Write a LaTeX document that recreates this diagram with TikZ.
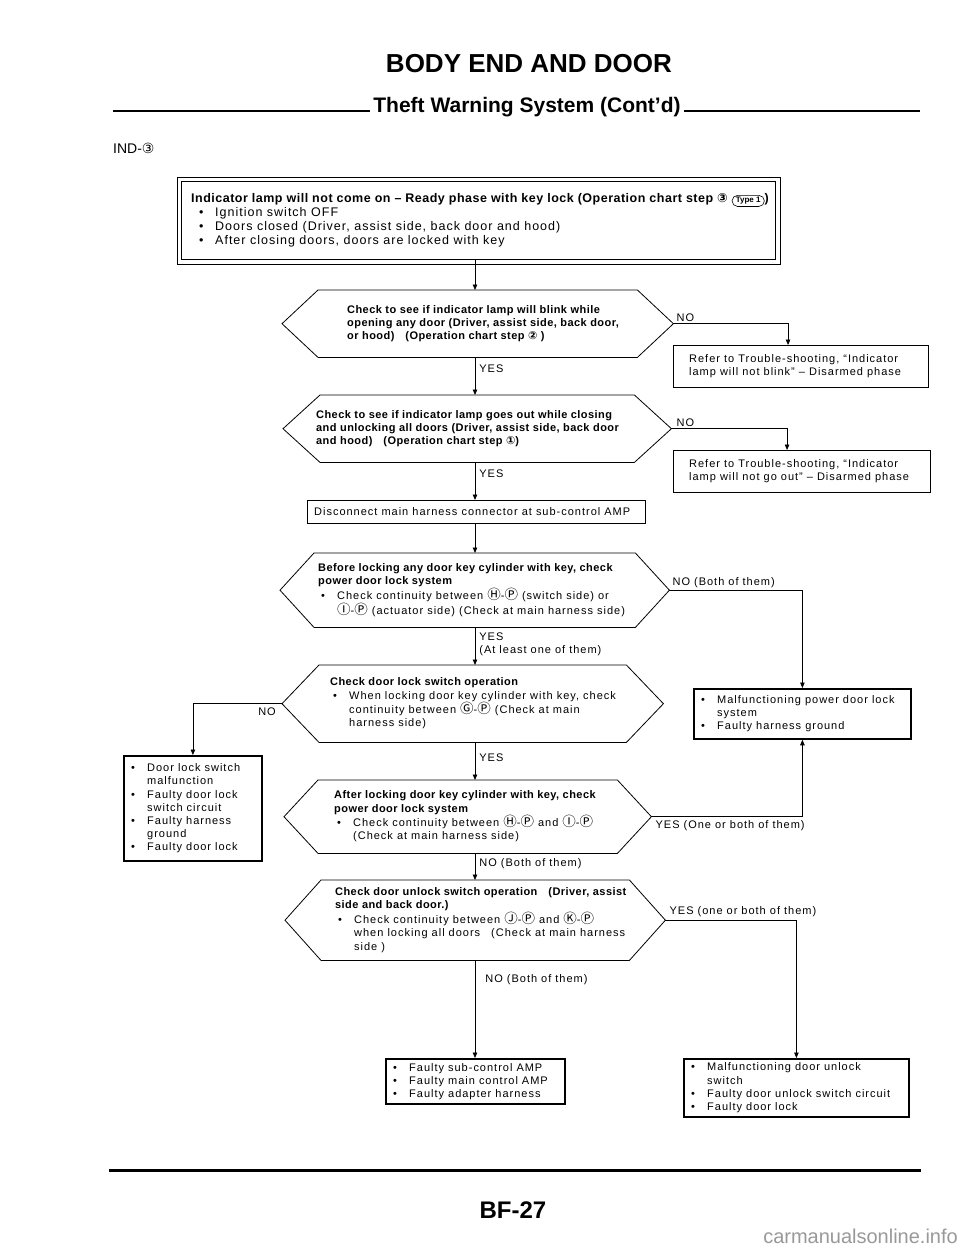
\documentclass[tikz,border=0pt]{standalone}
\usepackage{fontspec}
\setmainfont{Liberation Sans}[LetterSpace=9,BoldFeatures={LetterSpace=4}]
\newfontfamily\symf{DejaVu Sans}
\newfontfamily\circf{Noto Sans CJK SC}
\newfontfamily\plainf{Liberation Sans}
\usetikzlibrary{arrows.meta,shapes.misc,calc}
\newcommand{\ft}{\fontsize{11}{13.2}\selectfont}
\newcommand{\ftop}{\fontsize{12.5}{14}\selectfont\addfontfeature{LetterSpace=8}}
\newcommand{\cir}[1]{{\symf #1}}
\newcommand{\cl}[1]{{\circf\fontsize{13.5}{13}\selectfont #1}}
\newcommand{\bul}{\makebox[16pt][l]{\textbullet}}
\newcommand{\ind}{\hspace*{16pt}}
\newcommand{\typeone}{\tikz[baseline=(ty.base)]\node[draw,rounded rectangle,line width=0.6pt,inner xsep=2.5pt,inner ysep=2pt,font=\plainf\fontsize{8}{8}\selectfont,anchor=center](ty){Type 1};}
\newcommand{\hexnode}[6]{%
  \node[inner sep=0pt,minimum width=#4pt,minimum height=#5pt,anchor=north west] (#1) at (#2,#3) {};
  \draw[hexline] (#1.west) -- ([xshift=#6pt]#1.north west) -- ([xshift=-#6pt]#1.north east) -- (#1.east) -- ([xshift=-#6pt]#1.south east) -- ([xshift=#6pt]#1.south west) -- cycle;}
\begin{document}
\begin{tikzpicture}[x=1pt,y=-1pt,
  conn/.style={line width=0.8pt},
  arr/.style={conn,-{Triangle[length=5.5pt,width=4.5pt]}},
  hexline/.style={line width=0.8pt},
  box/.style={draw,line width=1.1pt,inner sep=0pt},
  rbox/.style={draw,line width=1.8pt,inner sep=0pt},
  txt/.style={font=\ft,align=left,inner sep=0pt},
  lbl/.style={font=\ft,inner sep=0pt,align=left}]
\fill[white] (0,0) rectangle (960,1247);
\useasboundingbox (0,0) rectangle (960,1247);
\coordinate (fl) at (475,0);
\coordinate (lft) at (113,0);
\coordinate (rgt) at (920,0);
% header
\node[font=\plainf\bfseries\fontsize{26}{26}\selectfont,anchor=base,inner sep=0] (title) at (529,72) {BODY END AND DOOR};
\node[font=\plainf\bfseries\fontsize{21}{21}\selectfont,anchor=base,inner sep=0] (sub) at (527,112) {Theft Warning System (Cont’d)};
\draw[line width=1.6pt] ([xshift=-3pt,yshift=1pt]sub.base west) -- ([yshift=1pt]sub.base west -| lft);
\draw[line width=1.6pt] ([xshift=3pt,yshift=1pt]sub.base east) -- ([yshift=1pt]sub.base east -| rgt);
\node[font=\plainf\fontsize{14}{14}\selectfont,anchor=base west,inner sep=0] (ind) at (113,153) {IND-\cir{③}};
% top box
\node[draw,line width=1.2pt,minimum width=594pt,minimum height=78pt,anchor=north west,inner sep=0] (top) at (181,181) {};
\draw[line width=0.7pt] ([shift={(-4pt,4pt)}]top.north west) rectangle ([shift={(4pt,-4pt)}]top.south east);
\node[txt,font=\ftop,anchor=west] (topt) at ([xshift=10pt]top.west) {{\bfseries\addfontfeature{LetterSpace=7}Indicator lamp will not come on -- Ready phase with key lock (Operation chart step \cir{③} \typeone)}\\
\hspace*{8pt}\bul Ignition switch OFF\\
\hspace*{8pt}\bul Doors closed (Driver, assist side, back door and hood)\\
\hspace*{8pt}\bul After closing doors, doors are locked with key};
% hexagons
\hexnode{h1}{282}{290}{391}{67}{36}
\hexnode{h2}{283}{395}{388}{67}{37}
\hexnode{h3}{280}{553}{389}{74}{34}
\hexnode{h4}{282}{665}{381}{77}{37}
\hexnode{h5}{284}{780}{367}{73}{34}
\hexnode{h6}{285}{880}{380}{80}{36}
\node[txt,anchor=west] (h1t) at (347,323.5) {\textbf{Check to see if indicator lamp will blink while}\\
\textbf{opening any door (Driver, assist side, back door,}\\
\textbf{or hood)\quad(Operation chart step \cir{②} )}};
\node[txt,anchor=west] (h2t) at (316,428.5) {\textbf{Check to see if indicator lamp goes out while closing}\\
\textbf{and unlocking all doors (Driver, assist side, back door}\\
\textbf{and hood)\quad(Operation chart step \cir{①})}};
\node[txt,anchor=west] (h3t) at (318,590) {\textbf{Before locking any door key cylinder with key, check}\\
\textbf{power door lock system}\\
\hspace*{3pt}\bul Check continuity between \cl{Ⓗ}-\cl{Ⓟ} (switch side) or\\
\hspace*{3pt}\ind\cl{Ⓘ}-\cl{Ⓟ} (actuator side) (Check at main harness side)};
\node[txt,anchor=west] (h4t) at (330,703.5) {\textbf{Check door lock switch operation}\\
\hspace*{3pt}\bul When locking door key cylinder with key, check\\
\hspace*{3pt}\ind continuity between \cl{Ⓖ}-\cl{Ⓟ} (Check at main\\
\hspace*{3pt}\ind harness side)};
\node[txt,anchor=west] (h5t) at (334,816.5) {\textbf{After locking door key cylinder with key, check}\\
\textbf{power door lock system}\\
\hspace*{3pt}\bul Check continuity between \cl{Ⓗ}-\cl{Ⓟ} and \cl{Ⓘ}-\cl{Ⓟ}\\
\hspace*{3pt}\ind(Check at main harness side)};
\node[txt,anchor=west] (h6t) at (335,920) {\textbf{Check door unlock switch operation\quad(Driver, assist}\\
\textbf{side and back door.)}\\
\hspace*{3pt}\bul Check continuity between \cl{Ⓙ}-\cl{Ⓟ} and \cl{Ⓚ}-\cl{Ⓟ}\\
\hspace*{3pt}\ind when locking all doors\quad(Check at main harness\\
\hspace*{3pt}\ind side )};
% boxes
\node[box,minimum width=255pt,minimum height=42pt,anchor=north west] (b2) at (673,345) {};
\node[txt,anchor=west] (b2t) at ([xshift=16pt]b2.west) {Refer to Trouble-shooting, ``Indicator\\lamp will not blink'' -- Disarmed phase};
\node[box,minimum width=257pt,minimum height=42pt,anchor=north west] (b3) at (673,450) {};
\node[txt,anchor=west] (b3t) at ([xshift=16pt]b3.west) {Refer to Trouble-shooting, ``Indicator\\lamp will not go out'' -- Disarmed phase};
\node[box,minimum width=338pt,minimum height=23pt,anchor=north west] (dc) at (307,500) {};
\node[txt,anchor=west] (dct) at ([xshift=7pt]dc.west) {Disconnect main harness connector at sub-control AMP};
\node[rbox,minimum width=217pt,minimum height=50pt,anchor=north west] (b4) at (693,688) {};
\node[txt,anchor=west] (b4t) at ([xshift=8pt]b4.west) {\bul Malfunctioning power door lock\\\ind system\\\bul Faulty harness ground};
\node[rbox,minimum width=138pt,minimum height=105pt,anchor=north west] (lb) at (123,755) {};
\node[txt,anchor=west] (lbt) at ([xshift=8pt]lb.west) {\bul Door lock switch\\\ind malfunction\\\bul Faulty door lock\\\ind switch circuit\\\bul Faulty harness\\\ind ground\\\bul Faulty door lock};
\node[rbox,minimum width=179pt,minimum height=45pt,anchor=north west] (bl) at (385,1058) {};
\node[txt,anchor=west] (blt) at ([xshift=8pt]bl.west) {\bul Faulty sub-control AMP\\\bul Faulty main control AMP\\\bul Faulty adapter harness};
\node[rbox,minimum width=225pt,minimum height=58pt,anchor=north west] (br) at (683,1058) {};
\node[txt,anchor=west] (brt) at ([xshift=8pt]br.west) {\bul Malfunctioning door unlock\\\ind switch\\\bul Faulty door unlock switch circuit\\\bul Faulty door lock};
% connectors
\draw[arr] (top.south -| fl) -- (h1.north -| fl);
\draw[arr] (h1.east) -| ([xshift=-13pt]b2.north);
\node[lbl,anchor=south west] (no1) at ([xshift=3pt,yshift=2pt]h1.east) {NO};
\draw[arr] (h1.south -| fl) -- node[lbl,anchor=west,pos=0.3,xshift=4pt] (yes1) {YES} (h2.north -| fl);
\draw[arr] (h2.east) -| ([xshift=-15pt]b3.north);
\node[lbl,anchor=south west] (no2) at ([xshift=5pt,yshift=2pt]h2.east) {NO};
\draw[arr] (h2.south -| fl) -- node[lbl,anchor=west,pos=0.3,xshift=4pt] (yes2) {YES} (dc.north -| fl);
\draw[arr] (dc.south -| fl) -- (h3.north -| fl);
\draw[arr] (h3.east) -| (b4.north);
\node[lbl,anchor=south west] (no3) at ([xshift=3pt,yshift=2pt]h3.east) {NO (Both of them)};
\draw[arr] (h3.south -| fl) -- node[lbl,anchor=west,pos=0.45,xshift=4pt] (yes3) {YES\\(At least one of them)} (h4.north -| fl);
\draw[arr] (h4.west) -| (lb.north);
\node[lbl,anchor=north east] (no4) at ([xshift=-6pt,yshift=-4pt]h4.west) {NO};
\draw[arr] (h4.south -| fl) -- node[lbl,anchor=west,pos=0.4,xshift=4pt] (yes4) {YES} (h5.north -| fl);
\draw[arr] (h5.east) -| (b4.south);
\node[lbl,anchor=north west] (yes5) at ([xshift=4pt,yshift=-4pt]h5.east) {YES (One or both of them)};
\draw[arr] (h5.south -| fl) -- node[lbl,anchor=west,pos=0.4,xshift=4pt] (no5) {NO (Both of them)} (h6.north -| fl);
\draw[arr] (h6.east) -| (br.north);
\node[lbl,anchor=south west] (yes6) at ([xshift=4pt,yshift=3pt]h6.east) {YES (one or both of them)};
\draw[arr] (h6.south -| fl) -- node[lbl,anchor=west,pos=0.2,xshift=10pt] (no6) {NO (Both of them)} (bl.north -| fl);
% footer
\coordinate (fr1) at (109,1170);
\coordinate (fr2) at (921,1170);
\draw[line width=3pt] (fr1) -- (fr2);
\node[font=\plainf\bfseries\fontsize{24}{24}\selectfont,inner sep=0] (pg) at (513,1210) {BF-27};
\node[font=\plainf\fontsize{20}{20}\selectfont,text=black!40,anchor=south east,inner sep=0] (wm) at (958,1244) {carmanualsonline.info};
\end{tikzpicture}
\end{document}
